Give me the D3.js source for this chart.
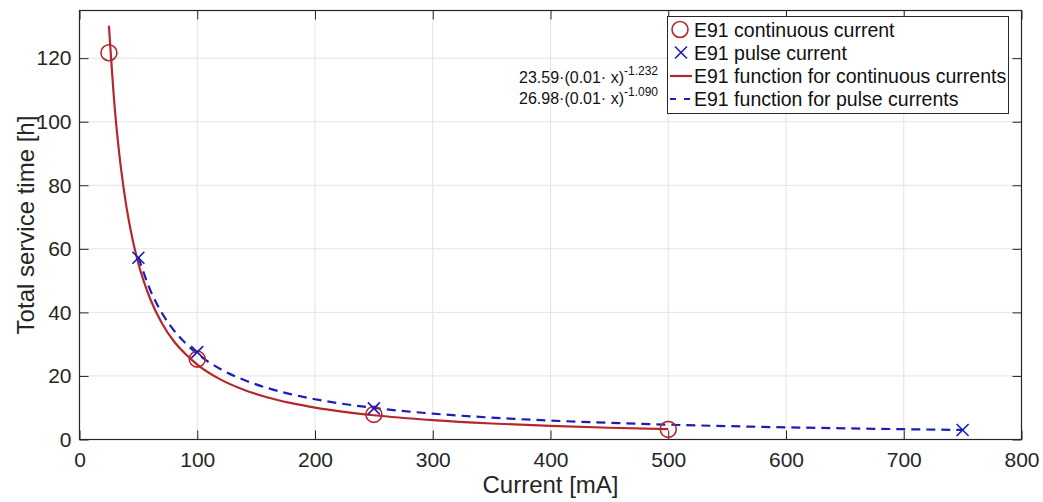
<!DOCTYPE html>
<html><head><meta charset="utf-8">
<script src="https://cdn.jsdelivr.net/npm/d3@7"></script>
<style>body{margin:0;background:#fff;} text{font-family:"Liberation Sans",Arial,Helvetica,sans-serif;}</style>
</head><body>
<svg id="c" width="1043" height="502"></svg>
<script>
// Measured points
const contX = [25, 100, 250, 500];
const contY = [121.7, 25.3, 7.9, 3.2];
const pulseX = [50, 100, 250, 750];
const pulseY = [57.2, 27.5, 9.8, 3.0];
// Fitted curve samples (read / tabulated)
const fitContX = [25,30,35,40,45,50,60,70,80,90,100,120,140,160,180,200,250,300,350,400,450,500];
const fitContY = [130.2,104.0,86.0,72.9,63.1,55.4,44.3,36.6,31.0,26.9,23.59,18.84,15.59,13.22,11.44,10.04,7.63,6.10,5.04,4.27,3.70,3.25];
const fitPulseX = [50,60,70,80,90,100,120,140,160,180,200,250,300,350,400,450,500,550,600,650,700,750];
const fitPulseY = [57.4,47.1,39.8,34.4,30.3,26.98,22.12,18.70,16.16,14.22,12.68,9.94,8.15,6.89,5.95,5.24,4.67,4.21,3.83,3.51,3.24,3.00];
const xTicks = [0,100,200,300,400,500,600,700,800];
const yTicks = [0,20,40,60,80,100,120];
const legendLabels = ["E91 continuous current","E91 pulse current","E91 function for continuous currents","E91 function for pulse currents"];
const formulas = [{base:"23.59·(0.01· x)", exp:"-1.232"},{base:"26.98·(0.01· x)", exp:"-1.090"}];

const red = "#b3282d", blue = "#1c1cb8", axisCol = "#262626";
const L = 79.5, R = 1021.5, T = 10.5, B = 439.5;
const svg = d3.select("#c");
const x = d3.scaleLinear().domain([0,800]).range([L,R]);
const y = d3.scaleLinear().domain([0,135]).range([B,T]);

// grid
const g = svg.append("g");
g.selectAll(".gx").data(xTicks).enter().append("line")
 .attr("x1",d=>x(d)).attr("x2",d=>x(d)).attr("y1",T).attr("y2",B)
 .attr("stroke","#e3e3e3").attr("stroke-width",1);
g.selectAll(".gy").data(yTicks).enter().append("line")
 .attr("y1",d=>y(d)).attr("y2",d=>y(d)).attr("x1",L).attr("x2",R)
 .attr("stroke","#e3e3e3").attr("stroke-width",1);

// axes
const fs = "21px";
const xAx = svg.append("g").attr("transform",`translate(0,${B})`)
 .call(d3.axisBottom(x).tickValues(xTicks).tickSizeInner(-9).tickSizeOuter(0).tickPadding(13));
const xAxT = svg.append("g").attr("transform",`translate(0,${T})`)
 .call(d3.axisTop(x).tickValues(xTicks).tickSizeInner(-9).tickSizeOuter(0).tickFormat(""));
const yAx = svg.append("g").attr("transform",`translate(${L},0)`)
 .call(d3.axisLeft(y).tickValues(yTicks).tickSizeInner(-9).tickSizeOuter(0).tickPadding(8));
const yAxR = svg.append("g").attr("transform",`translate(${R},0)`)
 .call(d3.axisRight(y).tickValues(yTicks).tickSizeInner(-9).tickSizeOuter(0).tickFormat(""));
[xAx,xAxT,yAx,yAxR].forEach(a=>{
  a.select(".domain").remove();
  a.selectAll("line").attr("stroke",axisCol);
  a.selectAll("text").attr("fill",axisCol).style("font-size",fs).style("font-family","Liberation Sans, Arial, sans-serif");
});
svg.append("rect").attr("x",L).attr("y",T).attr("width",R-L).attr("height",B-T)
 .attr("fill","none").attr("stroke",axisCol).attr("stroke-width",1.2);

// labels
svg.append("text").attr("x",(L+R)/2).attr("y",493).attr("text-anchor","middle")
 .attr("fill",axisCol).style("font-size","24px").text("Current [mA]");
svg.append("text").attr("transform",`translate(34,${(T+B)/2}) rotate(-90)`).attr("text-anchor","middle")
 .attr("fill",axisCol).style("font-size","24px").text("Total service time [h]");

// curves
const line = d3.line().x(d=>x(d[0])).y(d=>y(d[1])).curve(d3.curveMonotoneX);
svg.append("path").datum(fitContX.map((v,i)=>[v,fitContY[i]])).attr("d",line)
 .attr("fill","none").attr("stroke",red).attr("stroke-width",2.2);
svg.append("path").datum(fitPulseX.map((v,i)=>[v,fitPulseY[i]])).attr("d",line)
 .attr("fill","none").attr("stroke",blue).attr("stroke-width",2.2).attr("stroke-dasharray","9,6");

// markers
svg.selectAll(".cm").data(contX.map((v,i)=>[v,contY[i]])).enter().append("circle")
 .attr("cx",d=>x(d[0])).attr("cy",d=>y(d[1])).attr("r",8)
 .attr("fill","none").attr("stroke",red).attr("stroke-width",1.6);
const cross = (sel,cx,cy,s)=>{
  sel.append("path").attr("d",`M${cx-s},${cy-s}L${cx+s},${cy+s}M${cx-s},${cy+s}L${cx+s},${cy-s}`)
   .attr("stroke",blue).attr("stroke-width",1.6).attr("fill","none");
};
pulseX.forEach((v,i)=>cross(svg,x(v),y(pulseY[i]),6));

// formulas
formulas.forEach((f,i)=>{
  const t = svg.append("text").attr("x",658).attr("y",[83,104][i]).attr("text-anchor","end")
   .attr("fill","#111").style("font-size","16px");
  t.append("tspan").text(f.base);
  t.append("tspan").attr("dy",-8).style("font-size","12px").text(f.exp);
});

// legend
const lg = svg.append("g");
lg.append("rect").attr("x",667.5).attr("y",16.5).attr("width",341).attr("height",97)
 .attr("fill","#fff").attr("stroke",axisCol).attr("stroke-width",1);
const lb = [36.5,59.5,83,106];
legendLabels.forEach((lab,i)=>{
  lg.append("text").attr("x",694).attr("y",lb[i]).attr("fill","#111")
   .style("font-size","19.5px").text(lab);
});
lg.append("circle").attr("cx",680).attr("cy",lb[0]-7).attr("r",8).attr("fill","none").attr("stroke",red).attr("stroke-width",1.6);
cross(lg,681,lb[1]-7,6);
lg.append("line").attr("x1",670).attr("x2",692).attr("y1",lb[2]-7).attr("y2",lb[2]-7).attr("stroke",red).attr("stroke-width",2.2);
lg.append("line").attr("x1",670).attr("x2",692).attr("y1",lb[3]-7).attr("y2",lb[3]-7).attr("stroke",blue).attr("stroke-width",2.2).attr("stroke-dasharray","6,8");
</script>
</body></html>
